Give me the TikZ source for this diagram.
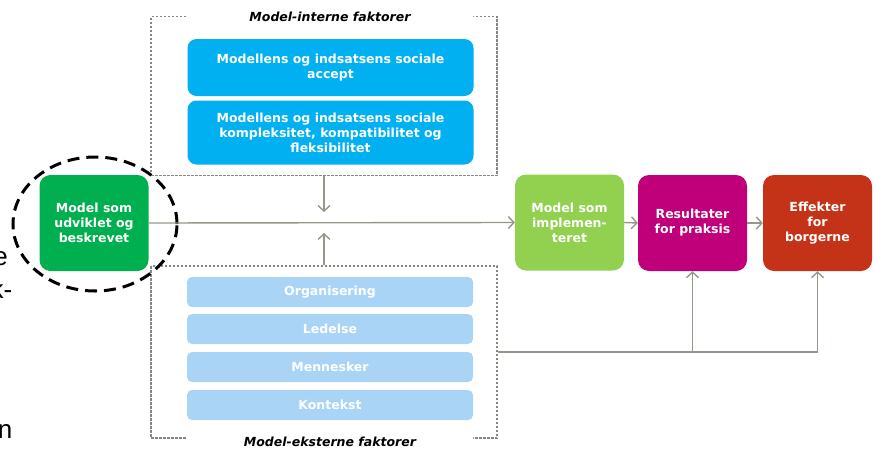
\documentclass[tikz,border=0pt]{standalone}
\usepackage{fontspec}
\setmainfont{DejaVu Sans}
\newfontfamily\fragfont{Liberation Sans}
\usepackage{xcolor}
\definecolor{ColGreen}{RGB}{0,176,80}
\definecolor{ColLime}{RGB}{146,208,80}
\definecolor{ColMag}{RGB}{192,0,122}
\definecolor{ColRed}{RGB}{196,50,24}
\definecolor{ColBlue}{RGB}{0,176,240}
\definecolor{ColPale}{RGB}{170,212,245}
\definecolor{ColLine}{RGB}{150,150,138}
\definecolor{ColFrame}{RGB}{135,135,130}
\usepackage{tikz}
\usetikzlibrary{shapes.geometric}
\usetikzlibrary{arrows.meta}
\tikzstyle{Box}=[rectangle,rounded corners=11pt,inner sep=0pt,
minimum width=109pt,minimum height=96pt,align=center,text=white,
font=\fontsize{12.5}{15}\selectfont\bfseries]
\tikzstyle{Factor}=[rectangle,rounded corners=9pt,inner sep=0pt,
fill=ColBlue,minimum width=286pt,align=center,text=white,
font=\fontsize{12.5}{15}\selectfont\bfseries]
\tikzstyle{Sub}=[rectangle,rounded corners=5pt,inner sep=0pt,
fill=ColPale,minimum width=286pt,minimum height=30pt,text=white,
font=\fontsize{12.5}{15}\selectfont\bfseries]
\tikzstyle{Frame}=[rectangle,draw=ColFrame,line width=1.4pt,
dash pattern=on 2.5pt off 1.5pt,inner sep=0pt,minimum width=346pt]
\tikzstyle{Title}=[rectangle,rounded corners=6pt,fill=white,inner sep=0pt,
minimum width=286pt,minimum height=26pt,
font=\fontsize{12.5}{15}\selectfont\bfseries\itshape]
\tikzstyle{Ring}=[ellipse,draw=black,line width=3pt,
dash pattern=on 12pt off 7pt,minimum width=164pt,minimum height=134pt]
\tikzstyle{Edge}=[draw=ColLine,line width=1.4pt,
-{Straight Barb[length=5.5pt,width=12pt]}]
\tikzstyle{Line}=[draw=ColLine,line width=1.4pt]
\tikzstyle{Frag}=[inner sep=0pt,anchor=base east,
font=\fragfont\fontsize{26}{30}\selectfont]

\begin{document}
\begin{tikzpicture}[x=1pt,y=-1pt]
    \useasboundingbox(0,0)rectangle(875,450);
    % cut-off words at the left edge
    \node[Frag](f1)at(8,265){e};
    \node[Frag](f2)at(12.5,298){k-};
    \node[Frag](f3)at(12.5,438){n};
    % factor frames
    \node[Frame,minimum height=159pt](int)at(324,96){};
    \node[Frame,minimum height=172pt](ext)at(324,352){};
    \node[Title](ti)at(330,17){Model-interne faktorer};
    \node[Title](te)at(330,442){Model-eksterne faktorer};
    \node[Factor,minimum height=57pt](a)at(330.5,67.5)
        {Modellens og indsatsens sociale\\accept};
    \node[Factor,minimum height=64pt](b)at(330.5,132.5)
        {Modellens og indsatsens sociale\\kompleksitet, kompatibilitet og\\fleksibilitet};
    \node[Sub](s1)at(330,292){Organisering};
    \node[Sub](s2)at(330,329){Ledelse};
    \node[Sub](s3)at(330,367){Mennesker};
    \node[Sub](s4)at(330,405){Kontekst};
    % chain
    \node[Box,fill=ColGreen](m)at(94,223){Model som\\udviklet og\\beskrevet};
    \node[Ring](ring)at(95,224){};
    \node[Box,fill=ColLime](im)at(569.5,222.5){Model som\\implemen-\\teret};
    \node[Box,fill=ColMag](res)at(692.5,223){Resultater\\for praksis};
    \node[Box,fill=ColRed](eff)at(817.5,223){Effekter\\for\\borgerne};
    \coordinate(dn)at(324,212);
    \coordinate(up)at(324,233);
    \coordinate(c1)at(692.5,352);
    \coordinate(c2)at(817.5,352);
    \draw[Edge](m.east)--(im.west);
    \draw[Edge](im.east)--(res.west);
    \draw[Edge](res.east)--(eff.west);
    \draw[Edge](int.south)--(dn);
    \draw[Edge](ext.north)--(up);
    \draw[Line](ext.east)--(c2);
    \draw[Edge](c1)--(res.south);
    \draw[Edge](c2)--(eff.south);
\end{tikzpicture}
\end{document}
